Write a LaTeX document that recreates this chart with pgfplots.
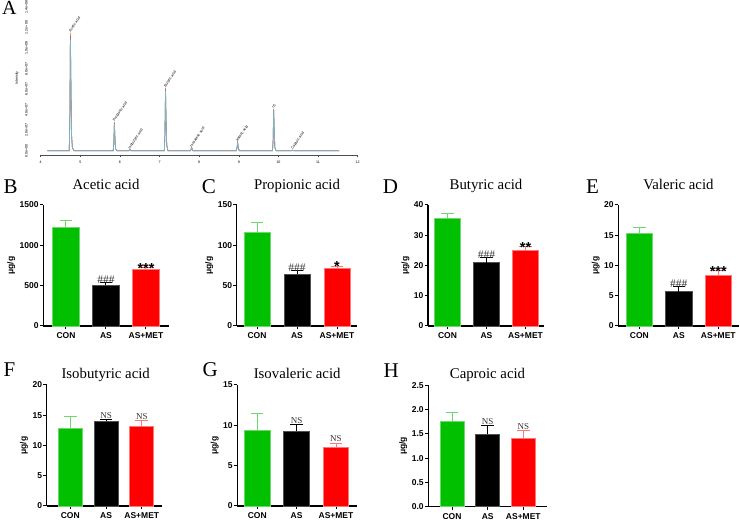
\documentclass[border=0pt]{standalone}
\usepackage{fontspec}
\setmainfont{Liberation Serif}
\setsansfont{Liberation Sans}
\usepackage{pgfplots}
\pgfplotsset{compat=1.18}
\usepackage{pgfplotstable}

\definecolor{cgreen}{RGB}{0,192,0}
\definecolor{cgreenl}{RGB}{110,215,110}
\definecolor{cred}{RGB}{255,0,0}
\definecolor{credl}{RGB}{255,120,120}
\definecolor{cgrayl}{RGB}{80,80,80}
\definecolor{chromO}{RGB}{235,160,60}
\definecolor{chromP}{RGB}{150,110,150}
\definecolor{chromB}{RGB}{125,180,200}

% chromatogram, intensity in units of 1e7
\pgfplotstableread{
t o p b
4.17 0 0 0
4.72 0 0 0
4.735 3.0 2.9 2.8
4.75 11.5 11.2 10.8
4.765 6.0 5.8 5.6
4.78 1.5 1.45 1.4
4.80 0.3 0.3 0.3
4.84 0 0 0
5.83 0 0 0
5.845 0.8 0.75 0.7
5.86 2.8 2.7 2.6
5.875 1.2 1.15 1.1
5.89 0.2 0.2 0.2
5.92 0 0 0
6.22 0 0 0
6.25 0.12 0.12 0.12
6.28 0 0 0
7.12 0 0 0
7.135 1.6 1.55 1.5
7.15 6.15 6.0 5.8
7.165 3.0 2.9 2.8
7.18 0.6 0.6 0.6
7.21 0 0 0
7.78 0 0 0
7.81 0.3 0.3 0.3
7.84 0 0 0
8.94 0 0 0
8.955 0.3 0.3 0.3
8.97 0.85 0.82 0.8
8.985 0.35 0.35 0.35
9.01 0 0 0
9.85 0 0 0
9.865 1.0 0.95 0.9
9.88 4.1 4.0 3.85
9.895 1.8 1.75 1.7
9.91 0.3 0.3 0.3
9.94 0 0 0
10.33 0 0 0
10.36 0.05 0.05 0.05
10.39 0 0 0
11.53 0 0 0
}\chromtab

\newcommand\tlfont{\sffamily\bfseries\fontsize{8.5}{9}\selectfont}
\newcommand\tinyfont{\sffamily\fontsize{3.6}{4}\selectfont}

\pgfplotsset{
  /pgf/number format/assume math mode=true,
  /pgf/number format/1000 sep={},
  barpanel/.style={
    scale only axis, anchor=south west,
    axis lines=left,
    axis line style={line width=1.1pt, -},
    ymin=0, enlargelimits=false, clip=false,
    xtick={0,1,2}, xticklabels={CON,AS,AS+MET},
    tick align=outside,
    major tick length=3.5pt,
    tick style={black, line width=1pt},
    ticklabel style={font=\tlfont},
    yticklabel style={inner sep=1pt},
    ylabel={μg/g},
    ylabel style={font=\tlfont},
    title style={font=\fontsize{14.8}{16}\selectfont, at={(0.5,1)}, anchor=base},
    ybar,
  },
  greenbar/.style={fill=cgreen, draw=cgreenl, line width=0.7pt, bar shift=0pt,
    /pgfplots/error bars/y dir=plus, /pgfplots/error bars/y explicit,
    /pgfplots/error bars/error bar style={line width=1pt, cgreenl},
    /pgfplots/error bars/error mark options={rotate=90, line width=1pt, cgreenl, mark size=6.3pt}},
  blackbar/.style={fill=black, draw=cgrayl, line width=0.7pt, bar shift=0pt,
    /pgfplots/error bars/y dir=plus, /pgfplots/error bars/y explicit,
    /pgfplots/error bars/error bar style={line width=1pt, black},
    /pgfplots/error bars/error mark options={rotate=90, line width=1pt, black, mark size=6.3pt}},
  redbar/.style={fill=cred, draw=credl, line width=0.7pt, bar shift=0pt,
    /pgfplots/error bars/y dir=plus, /pgfplots/error bars/y explicit,
    /pgfplots/error bars/error bar style={line width=1pt, credl},
    /pgfplots/error bars/error mark options={rotate=90, line width=1pt, credl, mark size=6.3pt}},
}
\tikzset{
  hash/.style={font=\fontsize{11.5}{12}\selectfont, text=black!80, anchor=base, inner sep=0pt, yshift=-1pt},
  stars/.style={font=\sffamily\bfseries\fontsize{14.5}{14.5}\selectfont, anchor=base, inner sep=0pt, yshift=-5.5pt},
  ns/.style={font=\fontsize{9}{9}\selectfont, text=black!80, anchor=base, inner sep=0pt, yshift=1.5pt},
  plabel/.style={font=\fontsize{21}{21}\selectfont, anchor=base west, inner sep=0pt},
  pk/.style={font=\tinyfont, rotate=56, anchor=base west, inner sep=0.3pt},
}

\begin{document}
\begin{tikzpicture}
\path[use as bounding box] (0,0) rectangle (740pt,522pt);

% ---------------- A ----------------
\begin{axis}[
  scale only axis, anchor=south west, at={(40.7pt,367pt)},
  width=317pt, height=148pt,
  xmin=4, xmax=12, ymin=-0.42, ymax=14,
  axis x line*=bottom, axis y line*=left,
  y axis line style={draw=none},
  x axis line style={line width=0.4pt, black!70, -},
  xtick={4,5,...,12},
  ytick={0,2,...,14},
  yticklabels={0.0e+00,2.0e+07,4.0e+07,6.0e+07,8.0e+07,1.0e+08,1.2e+08,1.4e+08},
  ytick style={draw=none},
  xtick style={black!70, line width=0.4pt},
  tick align=outside, major tick length=2.5pt,
  x tick label style={font=\tinyfont},
  y tick label style={font=\tinyfont, xshift=-7pt, rotate=90, anchor=south},
  ylabel={Intensity}, ylabel style={font=\tinyfont, at={(axis description cs:-0.0748,0.52)}, anchor=center},
  clip=false,
]
\addplot[chromO, line width=0.7pt] table[x=t, y=o] {\chromtab};
\addplot[chromP, line width=0.7pt] table[x=t, y=p] {\chromtab};
\addplot[chromB, line width=0.7pt] table[x=t, y=b] {\chromtab};
\node[pk] at (axis cs:4.75,11.5) {Acetic acid};
\node[pk] at (axis cs:5.86,2.8) {Propionic acid};
\node[pk] at (axis cs:6.25,0.12) {Isobutyric acid};
\node[pk] at (axis cs:7.15,6.15) {Butyric acid};
\node[pk] at (axis cs:7.81,0.3) {Isovaleric acid};
\node[pk] at (axis cs:8.97,0.85) {Valeric acid};
\node[pk] at (axis cs:9.88,4.1) {IS};
\node[pk] at (axis cs:10.36,0.05) {Caproic acid};
\end{axis}
\node[plabel, font=\fontsize{20}{20}\selectfont] at (2pt,507pt) {A};

% ---------------- B ----------------
\begin{axis}[barpanel, at={(43.3pt,196pt)}, width=125.4pt, height=121pt,
  xmin=-0.5675, xmax=2.5675, ymax=1500, ytick={0,500,1000,1500}, bar width=0.667,
  title={Acetic acid}, title style={yshift=9pt}]
\addplot[greenbar] coordinates {(0,1219) +- (0,91)};
\addplot[blackbar] coordinates {(1,504) +- (0,38)};
\addplot[redbar] coordinates {(2,703) +- (0,22)};
\node[hash] at (axis cs:1,542) {\#\#\#};
\node[stars] at (axis cs:2,725) {***};
\end{axis}
\node[plabel] at (3.3pt,328.7pt) {B};

% ---------------- C ----------------
\begin{axis}[barpanel, at={(236.7pt,196pt)}, width=120.6pt, height=121pt,
  xmin=-0.5075, xmax=2.5075, ymax=150, ytick={0,50,100,150}, bar width=0.65,
  title={Propionic acid}, title style={yshift=9pt}]
\addplot[greenbar] coordinates {(0,115.6) +- (0,12.9)};
\addplot[blackbar] coordinates {(1,64.6) +- (0,4.6)};
\addplot[redbar] coordinates {(2,71) +- (0,3)};
\node[hash] at (axis cs:1,69.2) {\#\#\#};
\node[stars] at (axis cs:2,74) {*};
\end{axis}
\node[plabel] at (201.7pt,328pt) {C};

% ---------------- D ----------------
\begin{axis}[barpanel, at={(428pt,196pt)}, width=116pt, height=121pt,
  xmin=-0.5, xmax=2.474, ymax=40, ytick={0,10,20,30,40}, bar width=0.67,
  title={Butyric acid}, title style={yshift=9pt}]
\addplot[greenbar] coordinates {(0,35.6) +- (0,1.6)};
\addplot[blackbar] coordinates {(1,20.9) +- (0,1.6)};
\addplot[redbar] coordinates {(2,24.9) +- (0,1.3)};
\node[hash] at (axis cs:1,22.5) {\#\#\#};
\node[stars] at (axis cs:2,26.2) {**};
\end{axis}
\node[plabel] at (382.7pt,328pt) {D};

% ---------------- E ----------------
\begin{axis}[barpanel, at={(618.3pt,196pt)}, width=120.2pt, height=121pt,
  xmin=-0.532, xmax=2.511, ymax=20, ytick={0,5,10,15,20}, bar width=0.66,
  title={Valeric acid}, title style={yshift=9pt}]
\addplot[greenbar] coordinates {(0,15.3) +- (0,0.9)};
\addplot[blackbar] coordinates {(1,5.7) +- (0,0.85)};
\addplot[redbar] coordinates {(2,8.45) +- (0,0.65)};
\node[hash] at (axis cs:1,6.55) {\#\#\#};
\node[stars] at (axis cs:2,9.1) {***};
\end{axis}
\node[plabel] at (586pt,328pt) {E};

% ---------------- F ----------------
\begin{axis}[barpanel, at={(46.7pt,16pt)}, width=115pt, height=121pt,
  xmin=-0.66, xmax=2.557, ymax=20, ytick={0,5,10,15,20}, bar width=0.67,
  title={Isobutyric acid}, title style={yshift=0.7pt, xshift=1.5pt}]
\addplot[greenbar] coordinates {(0,12.9) +- (0,1.9)};
\addplot[blackbar] coordinates {(1,14.0) +- (0,0.25)};
\addplot[redbar] coordinates {(2,13.1) +- (0,0.95)};
\node[ns] at (axis cs:1,14.25) {NS};
\node[ns] at (axis cs:2,14.05) {NS};
\end{axis}
\node[plabel] at (3.3pt,145.3pt) {F};

% ---------------- G ----------------
\begin{axis}[barpanel, at={(237.3pt,16pt)}, width=119.7pt, height=121pt,
  xmin=-0.505, xmax=2.533, ymax=15, ytick={0,5,10,15}, bar width=0.65,
  title={Isovaleric acid}, title style={yshift=0pt}]
\addplot[greenbar] coordinates {(0,9.42) +- (0,2.08)};
\addplot[blackbar] coordinates {(1,9.3) +- (0,0.8)};
\addplot[redbar] coordinates {(2,7.27) +- (0,0.5)};
\node[ns] at (axis cs:1,10.1) {NS};
\node[ns] at (axis cs:2,7.77) {NS};
\end{axis}
\node[plabel] at (202.3pt,145pt) {G};

% ---------------- H ----------------
\begin{axis}[barpanel, at={(428.3pt,15.5pt)}, width=118.4pt, height=121pt,
  xmin=-0.665, xmax=2.656, ymax=2.5, ytick={0,0.5,...,2.5}, bar width=0.665,
  yticklabel style={/pgf/number format/.cd, fixed, fixed zerofill, precision=1},
  title={Caproic acid}, title style={yshift=1.4pt}]
\addplot[greenbar] coordinates {(0,1.75) +- (0,0.19)};
\addplot[blackbar] coordinates {(1,1.50) +- (0,0.17)};
\addplot[redbar] coordinates {(2,1.41) +- (0,0.16)};
\node[ns] at (axis cs:1,1.67) {NS};
\node[ns] at (axis cs:2,1.57) {NS};
\end{axis}
\node[plabel] at (383.3pt,144pt) {H};

\end{tikzpicture}
\end{document}
